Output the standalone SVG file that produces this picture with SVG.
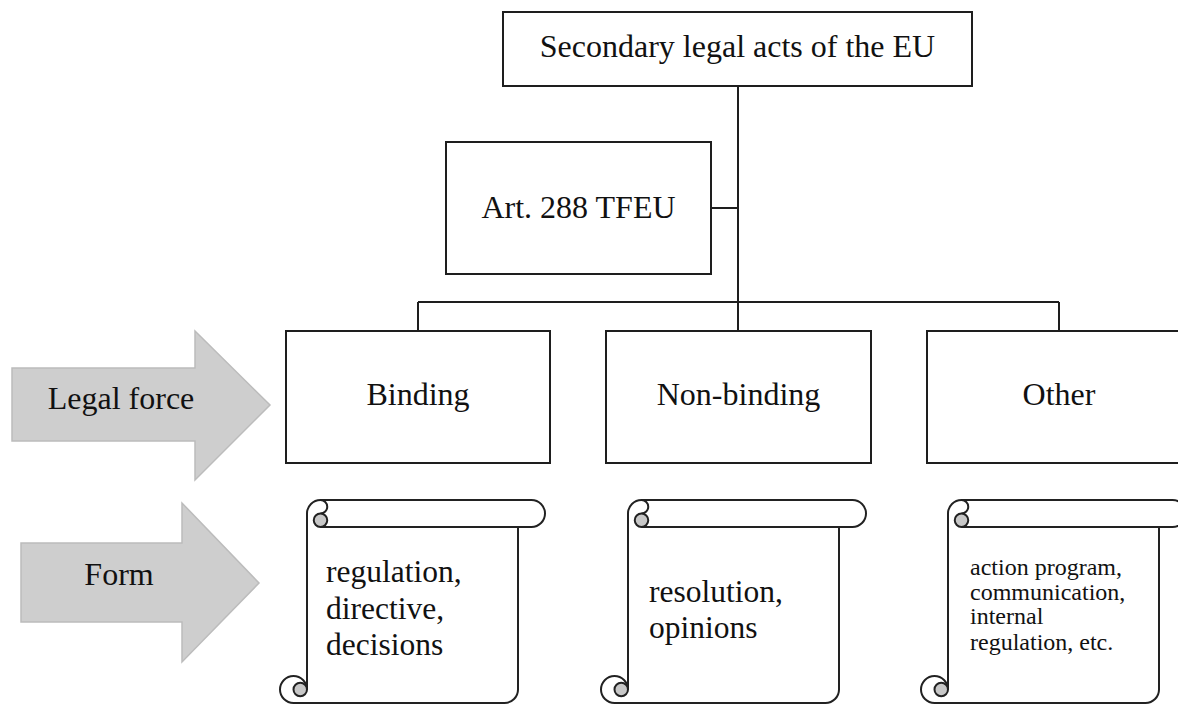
<svg xmlns="http://www.w3.org/2000/svg" xmlns:xlink="http://www.w3.org/1999/xlink" width="1178" height="704" viewBox="0 0 1178 704">
<style>
.box{fill:#fff;stroke:#1e1e1e;stroke-width:2}
.con{fill:none;stroke:#1e1e1e;stroke-width:2}
.t{font-family:"Liberation Serif","Times New Roman",serif;font-size:32px;fill:#111}
.tm{text-anchor:middle}
.st{font-family:"Liberation Serif","Times New Roman",serif;fill:#111}
.arrow{fill:#cecece;stroke:#bcbcbc;stroke-width:1.5}
.sc{fill:none;stroke:#222;stroke-width:2}
.scf{fill:#fff;stroke:none}
.cur{fill:#c8c8c8;stroke:#222;stroke-width:2}
</style>
<defs>
<g id="scroll">
<path class="scf" d="M0,13.5 A13.5,13.5 0 0 1 13.5,0 L224.5,0 A13.5,13.5 0 0 1 224.5,27 L211,27 L211,189.5 A13.5,13.5 0 0 1 197.5,203 L-13.5,203 A13.5,13.5 0 0 1 -13.5,176 A13.5,13.5 0 0 1 0,189.5 Z"/>
<path class="sc" d="M0,189.5 L0,13.5 A13.5,13.5 0 0 1 13.5,0 L224.5,0 A13.5,13.5 0 0 1 224.5,27 L13.5,27"/>
<path class="sc" d="M211,27 L211,189.5 A13.5,13.5 0 0 1 197.5,203 L-13.5,203 A13.5,13.5 0 0 1 -13.5,176 A13.5,13.5 0 0 1 0,189.5"/>
<path class="sc" d="M13.5,0 A6.75,6.75 0 0 1 13.5,13.5"/>
<circle class="cur" cx="13.5" cy="20.25" r="6.75"/>
<circle class="cur" cx="-6.75" cy="189.5" r="6.75"/>
</g>
</defs>

<g id="connectors">
<path class="con" d="M738,86 L738,331"/>
<path class="con" d="M711,208 L738,208"/>
<path class="con" d="M418,302 L1059,302"/>
<path class="con" d="M418,302 L418,331"/>
<path class="con" d="M1059,302 L1059,331"/>
</g>

<g id="root">
<rect class="box" x="503" y="12" width="469" height="74"/>
<text class="t tm" x="737.5" y="57">Secondary legal acts of the EU</text>
</g>

<g id="art288">
<rect class="box" x="446" y="142" width="265" height="132"/>
<text class="t tm" x="578.5" y="218">Art. 288 TFEU</text>
</g>

<g id="binding">
<rect class="box" x="286" y="331" width="264" height="132"/>
<text class="t tm" x="418" y="405">Binding</text>
</g>

<g id="nonbinding">
<rect class="box" x="606" y="331" width="265" height="132"/>
<text class="t tm" x="738.5" y="405">Non-binding</text>
</g>

<g id="other">
<rect class="box" x="927" y="331" width="264" height="132"/>
<text class="t tm" x="1059" y="405">Other</text>
</g>

<g id="legal-force">
<path class="arrow" d="M12,368 L195,368 L195,331 L270,405 L195,480 L195,441 L12,441 Z"/>
<text class="t tm" x="121" y="409">Legal force</text>
</g>

<g id="form">
<path class="arrow" d="M21,543 L182,543 L182,503 L259,583 L182,662 L182,622 L21,622 Z"/>
<text class="t tm" x="119" y="585">Form</text>
</g>

<g id="form-binding">
<use xlink:href="#scroll" href="#scroll" transform="translate(307,500)"/>
<text class="st" font-size="31.5" x="326" y="582">regulation,</text>
<text class="st" font-size="31.5" x="326" y="619">directive,</text>
<text class="st" font-size="31.5" x="326" y="655">decisions</text>
</g>

<g id="form-nonbinding">
<use xlink:href="#scroll" href="#scroll" transform="translate(628,500)"/>
<text class="st" font-size="31.5" x="649" y="602">resolution,</text>
<text class="st" font-size="31.5" x="649" y="638">opinions</text>
</g>

<g id="form-other">
<use xlink:href="#scroll" href="#scroll" transform="translate(948,500)"/>
<text class="st" font-size="24" x="970" y="575">action program,</text>
<text class="st" font-size="24" x="970" y="600">communication,</text>
<text class="st" font-size="24" x="970" y="624">internal</text>
<text class="st" font-size="24" x="970" y="650">regulation, etc.</text>
</g>
</svg>
